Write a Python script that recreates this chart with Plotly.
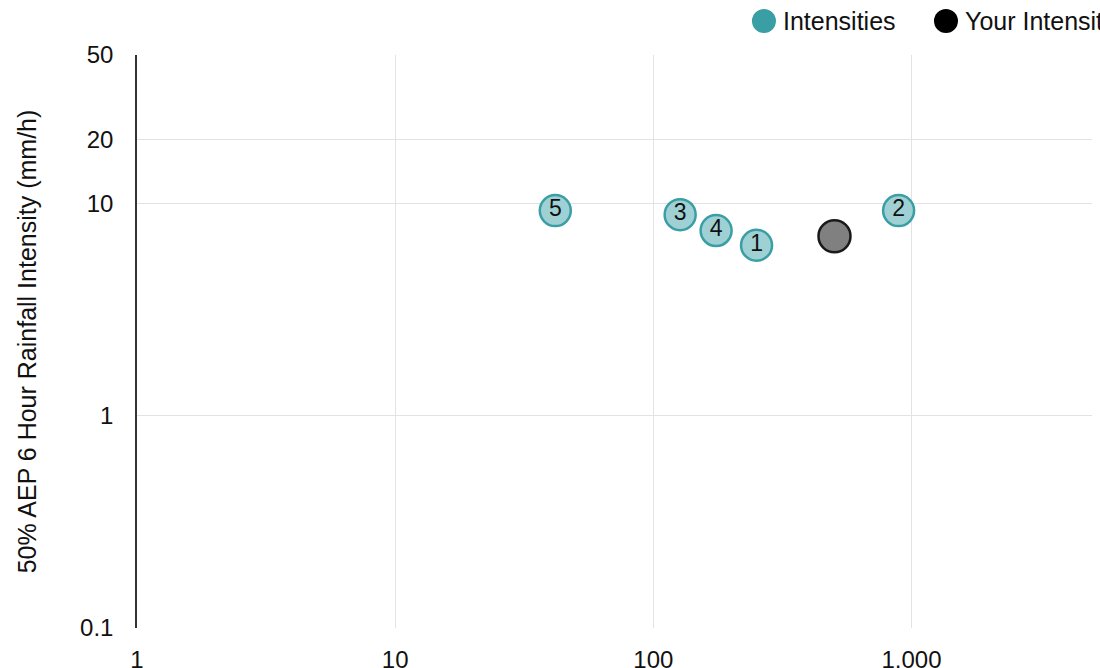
import plotly.graph_objects as go
import numpy as np

# Data
site_labels = ["1", "2", "3", "4", "5"]
site_x = [251, 891, 127, 175, 41.7]
site_y = [6.35, 9.25, 8.85, 7.45, 9.25]
your_x = [503]
your_y = [7.0]

x_tickvals = [1, 10, 100, 1000]
x_ticktext = ["1", "10", "100", "1,000"]
y_tickvals = [0.1, 1, 10, 20, 50]
y_ticktext = ["0.1", "1", "10", "20", "50"]

legend_names = ["Intensities", "Your Intensity"]
legend_colors = ["#3a9ea5", "#000000"]

FONT = "Liberation Sans, Arial, sans-serif"

fig = go.Figure()
fig.add_trace(go.Scatter(
    x=site_x, y=site_y, mode="markers+text", text=site_labels,
    textposition="middle center",
    textfont=dict(family=FONT, size=23, color="#111"),
    marker=dict(size=31, color="#9fd1d4", line=dict(color="#3a9ea5", width=2.5)),
    name=legend_names[0], showlegend=False, cliponaxis=False,
))
fig.add_trace(go.Scatter(
    x=your_x, y=your_y, mode="markers",
    marker=dict(size=32, color="#808080", line=dict(color="#1a1a1a", width=2.5)),
    name=legend_names[1], showlegend=False, cliponaxis=False,
))

# Manual legend (larger symbols than plotly's legend allows)
leg_x = [0.6565, 0.8471]
leg_tx = [0.6743, 0.8649]
leg_y = 1.0593
for i in range(2):
    fig.add_shape(type="circle", xref="paper", yref="paper",
                  xsizemode="pixel", ysizemode="pixel",
                  xanchor=leg_x[i], yanchor=leg_y,
                  x0=-12, x1=12, y0=-12, y1=12,
                  fillcolor=legend_colors[i], line=dict(width=0))
    fig.add_annotation(x=leg_tx[i], y=leg_y, xref="paper", yref="paper",
                       text=legend_names[i], showarrow=False,
                       xanchor="left", yanchor="middle",
                       font=dict(family=FONT, size=25, color="#111"))

fig.update_xaxes(
    type="log", range=[0, np.log10(5000)],
    tickvals=x_tickvals, ticktext=x_ticktext,
    showgrid=True, gridcolor="#e3e3e3", gridwidth=1,
    showline=False, zeroline=False, ticks="",
    tickfont=dict(family=FONT, size=24, color="#111"),
    ticklabelstandoff=15,
)
fig.update_yaxes(
    type="log", range=[-1, np.log10(50)],
    tickvals=y_tickvals, ticktext=y_ticktext,
    showgrid=True, gridcolor="#e3e3e3", gridwidth=1,
    showline=True, linecolor="#333", linewidth=1.5, zeroline=False, ticks="",
    tickfont=dict(family=FONT, size=24, color="#111"),
    ticklabelstandoff=17,
    title=dict(text="50% AEP 6 Hour Rainfall Intensity (mm/h)",
               font=dict(family=FONT, size=25, color="#111"), standoff=36),
)
fig.update_layout(
    width=1100, height=668,
    margin=dict(l=137, r=8, t=55, b=40, autoexpand=False),
    plot_bgcolor="white", paper_bgcolor="white",
    showlegend=False,
)
fig.write_html("out.html")
